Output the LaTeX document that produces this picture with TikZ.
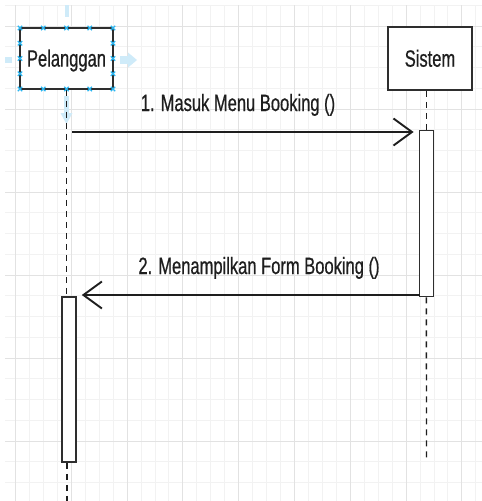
\documentclass[tikz,border=0pt]{standalone}
\usepackage{fontspec}
\newfontfamily\diafont[FakeStretch=0.70,FakeBold=0.6]{Liberation Sans}
\usetikzlibrary{arrows.meta}
\definecolor{gridminor}{HTML}{F2F2F2}
\definecolor{gridmajor}{HTML}{E2E2E2}
\definecolor{ink}{HTML}{1E1E1E}
\definecolor{boxline}{HTML}{2E2E2E}
\definecolor{selblue}{HTML}{29B6F2}
\definecolor{hintblue}{HTML}{CFEBF9}
\tikzset{
  actorbox/.style={draw=boxline, line width=1.8pt, fill=white, inner sep=0pt,
    font=\diafont\fontsize{23.6}{28}\selectfont, text=ink, text depth=0pt},
  actbar/.style={draw=boxline, line width=1.6pt, fill=white, minimum width=14pt, inner sep=0pt},
  lifeline/.style={draw=ink, line width=1.4pt, dash pattern=on 6pt off 5pt},
  msgline/.style={draw=ink, line width=1.9pt, -{Straight Barb[length=18.5pt, width=27pt, line width=1.9pt]}},
  msglabel/.style={font=\diafont\fontsize{23.6}{28}\selectfont, text=ink, inner sep=0pt, anchor=base},
  handle/.style={draw=selblue, line width=1.1pt},
  hint/.style={fill=hintblue, draw=none}
}
\begin{document}
\begin{tikzpicture}[x=1pt,y=-1pt]
\useasboundingbox (0,0) rectangle (482,501);
\fill[white] (0,0) rectangle (482,501);
% grid
\foreach \i in {1,...,34} {\draw[gridminor, line width=1pt] ({1.55+13.95*\i},5) -- ({1.55+13.95*\i},501);}
\foreach \i in {0,...,23} {\draw[gridminor, line width=1pt] (5,{5.25+20.75*\i}) -- (482,{5.25+20.75*\i});}
\foreach \i in {0,...,8} {\draw[gridmajor, line width=1pt] ({15.5+55.8*\i},5) -- ({15.5+55.8*\i},501);}
\foreach \i in {0,...,5} {\draw[gridmajor, line width=1pt] (5,{26+83*\i}) -- (482,{26+83*\i});}

% hover hint arrows
\fill[hint] (65,5) rectangle (69,17);
\fill[hint] (5,57) rectangle (12,63);
\fill[hint] (120,56) rectangle (128.5,64);
\fill[hint] (128,52.5) -- (137,60) -- (128,67.5) -- cycle;
\fill[hint] (64,96) rectangle (69,114);
\fill[hint] (60.5,113) -- (72.5,113) -- (66.5,124) -- cycle;

% actors
\node[actorbox, minimum width=93pt, minimum height=61pt, text height=16.2pt] (p) at (66.5,58.5) {Pelanggan};
\node[actorbox, minimum width=84pt, minimum height=63pt, text height=16.4pt] (s) at (430,58.5) {Sistem};

% activations
\node[actbar, minimum height=166pt] (sa) at (426.4,213.6) {};
\node[actbar, minimum height=165pt] (pa) at (69,379.5) {};

% lifelines
\coordinate (pend) at (67,501);
\coordinate (send) at (426.5,460);
\draw[lifeline] (p.south) -- (p.south |- pa.north);
\draw[lifeline] (pend |- pa.south) -- (pend);
\draw[lifeline] (s.south -| sa.north) -- (sa.north);
\draw[lifeline] (sa.south) -- (send);

% messages
\coordinate (m1s) at (72,132);
\draw[msgline, shorten >=5pt] (m1s) -- (sa.west |- m1s);
\node[msglabel] (m1l) at (238,111) {1. Masuk Menu Booking ()};
\coordinate (m2s) at (419.5,295);
\draw[msgline, shorten >=5pt] (m2s) -- (pa.east |- m2s);
\node[msglabel] (m2l) at (259,274) {2. Menampilkan Form Booking ()};

% selection handles on Pelanggan
\foreach \hx in {20,43.25,66.5,89.75,113} {
  \foreach \hy in {28,89} {
    \draw[handle] (\hx-2.2,\hy-2.2) -- (\hx+2.2,\hy+2.2) (\hx-2.2,\hy+2.2) -- (\hx+2.2,\hy-2.2);
  }
}
\foreach \hy in {43.25,58.5,73.75} {
  \foreach \hx in {20,113} {
    \draw[handle] (\hx-2.2,\hy-2.2) -- (\hx+2.2,\hy+2.2) (\hx-2.2,\hy+2.2) -- (\hx+2.2,\hy-2.2);
  }
}
\end{tikzpicture}
\end{document}
